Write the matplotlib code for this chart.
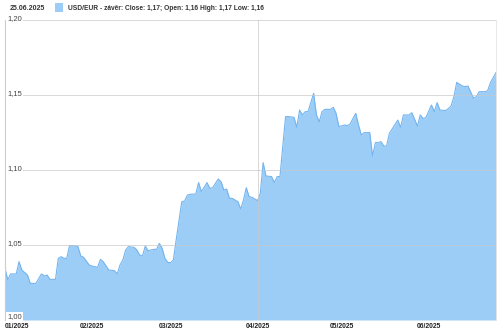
import pandas as pd
import numpy as np
import matplotlib
matplotlib.use("Agg")
import matplotlib.pyplot as plt
import matplotlib.transforms as mtransforms
from matplotlib.patches import Rectangle

## DATA
dates = ["2025-01-01", "2025-01-02", "2025-01-03", "2025-01-05", "2025-01-06", "2025-01-07",
         "2025-01-09", "2025-01-10", "2025-01-12", "2025-01-14", "2025-01-15", "2025-01-16",
         "2025-01-17", "2025-01-19", "2025-01-20", "2025-01-21", "2025-01-22", "2025-01-23",
         "2025-01-24", "2025-01-26", "2025-01-27", "2025-01-28", "2025-01-29", "2025-01-31",
         "2025-02-01", "2025-02-03", "2025-02-04", "2025-02-05", "2025-02-07", "2025-02-09",
         "2025-02-10", "2025-02-11", "2025-02-12", "2025-02-13", "2025-02-14", "2025-02-16",
         "2025-02-17", "2025-02-18", "2025-02-19", "2025-02-20", "2025-02-21", "2025-02-22",
         "2025-02-23", "2025-02-24", "2025-02-25", "2025-02-26", "2025-02-27", "2025-02-28",
         "2025-03-01", "2025-03-02", "2025-03-03", "2025-03-05", "2025-03-06", "2025-03-07",
         "2025-03-08", "2025-03-10", "2025-03-11", "2025-03-12", "2025-03-14", "2025-03-15",
         "2025-03-16", "2025-03-18", "2025-03-19", "2025-03-20", "2025-03-21", "2025-03-22",
         "2025-03-23", "2025-03-25", "2025-03-26", "2025-03-27", "2025-03-28", "2025-03-29",
         "2025-03-30", "2025-04-01", "2025-04-02", "2025-04-03", "2025-04-04", "2025-04-06",
         "2025-04-07", "2025-04-08", "2025-04-09", "2025-04-11", "2025-04-12", "2025-04-14",
         "2025-04-15", "2025-04-16", "2025-04-17", "2025-04-18", "2025-04-19", "2025-04-21",
         "2025-04-22", "2025-04-23", "2025-04-24", "2025-04-25", "2025-04-27", "2025-04-28",
         "2025-04-29", "2025-04-30", "2025-05-02", "2025-05-03", "2025-05-04", "2025-05-06",
         "2025-05-07", "2025-05-08", "2025-05-09", "2025-05-11", "2025-05-12", "2025-05-13",
         "2025-05-14", "2025-05-15", "2025-05-16", "2025-05-17", "2025-05-18", "2025-05-21",
         "2025-05-22", "2025-05-23", "2025-05-25", "2025-05-26", "2025-05-28", "2025-05-29",
         "2025-05-30", "2025-05-31", "2025-06-02", "2025-06-03", "2025-06-04", "2025-06-05",
         "2025-06-07", "2025-06-08", "2025-06-09", "2025-06-10", "2025-06-11", "2025-06-13",
         "2025-06-14", "2025-06-15", "2025-06-17", "2025-06-18", "2025-06-19", "2025-06-21",
         "2025-06-22", "2025-06-23", "2025-06-25"]
close = [1.0344, 1.0267, 1.0307, 1.0307, 1.0389, 1.0333,
         1.0300, 1.0244, 1.0244, 1.0307, 1.0293, 1.0300,
         1.0271, 1.0271, 1.0411, 1.0422, 1.0411, 1.0411,
         1.0496, 1.0496, 1.0489, 1.0427, 1.0418, 1.0367,
         1.0360, 1.0351, 1.0404, 1.0389, 1.0333, 1.0329,
         1.0307, 1.0367, 1.0400, 1.0467, 1.0489, 1.0484,
         1.0467, 1.0433, 1.0427, 1.0493, 1.0462, 1.0467,
         1.0471, 1.0471, 1.0511, 1.0478, 1.0411, 1.0384,
         1.0382, 1.0400, 1.0533, 1.0789, 1.0793, 1.0833,
         1.0838, 1.0840, 1.0916, 1.0856, 1.0916, 1.0878,
         1.0882, 1.0940, 1.0922, 1.0867, 1.0873, 1.0811,
         1.0811, 1.0789, 1.0740, 1.0800, 1.0882, 1.0822,
         1.0818, 1.0796, 1.0844, 1.1049, 1.0960, 1.0956,
         1.0916, 1.0956, 1.0956, 1.1356, 1.1356, 1.1351,
         1.1284, 1.1400, 1.1367, 1.1389, 1.1389, 1.1511,
         1.1367, 1.1322, 1.1389, 1.1404, 1.1404, 1.1418,
         1.1378, 1.1289, 1.1300, 1.1296, 1.1307, 1.1378,
         1.1300, 1.1233, 1.1249, 1.1249, 1.1093, 1.1182,
         1.1182, 1.1189, 1.1160, 1.1160, 1.1244, 1.1333,
         1.1284, 1.1367, 1.1367, 1.1382, 1.1293, 1.1367,
         1.1344, 1.1349, 1.1433, 1.1389, 1.1449, 1.1400,
         1.1396, 1.1409, 1.1427, 1.1489, 1.1584, 1.1560,
         1.1556, 1.1560, 1.1478, 1.1489, 1.1522, 1.1522,
         1.1527, 1.1582, 1.1649]

y_ticks = [1.00, 1.05, 1.10, 1.15, 1.20]
month_ticks = ["2025-01-01", "2025-02-01", "2025-03-01", "2025-04-01", "2025-05-01", "2025-06-01"]
month_labels = ["01/2025", "02/2025", "03/2025", "04/2025", "05/2025", "06/2025"]
header_date = "25.06.2025"
legend_text = "USD/EUR - závěr: Close: 1,17; Open: 1,16 High: 1,17 Low: 1,16"

plt.rcParams["font.family"] = ["Liberation Sans", "DejaVu Sans"]

x = pd.to_datetime(dates)

## DOING THE GRAPH
fig = plt.figure(figsize=(5, 3.35), dpi=100)
ax = fig.add_axes([0.01, 0.0448, 0.982, 0.8955])

ax.fill_between(x, 1.0, close, color="#9bcdf7", lw=0, zorder=1)
ax.plot(x, close, color="#74b4ee", lw=0.8, zorder=2)

ax.set_xlim(pd.Timestamp("2025-01-01"), pd.Timestamp("2025-06-25"))
ax.set_ylim(1.0, 1.2)

# horizontal grid lines + labels sitting on them
lift = mtransforms.offset_copy(ax.get_yaxis_transform(), fig=fig, x=0, y=1, units="dots")
for v in y_ticks:
    ax.axhline(v, color="#c8c8c8", lw=0.7, alpha=0.7, zorder=3)
    ax.text(0.005, v, f"{v:.2f}".replace(".", ","),
            transform=ax.get_yaxis_transform() if v == 1.0 else lift,
            ha="left", va="bottom" if v == 1.0 else "center", fontsize=5.5,
            color="#444444", zorder=4,
            bbox=dict(boxstyle="square,pad=0.15", fc="white", ec="none"))
ax.axvline(pd.Timestamp("2025-04-01"), color="#c8c8c8", lw=0.7, alpha=0.7, zorder=3)

ax.set_yticks([])
ax.set_xticks(pd.to_datetime(month_ticks))
ax.set_xticklabels(month_labels, fontsize=4.9, fontweight="bold", color="#222222")
ax.get_xticklabels()[0].set_ha("left")
ax.tick_params(axis="x", length=0, pad=2)

for s in ["top", "bottom"]:
    ax.spines[s].set_visible(False)
ax.spines["left"].set_color("#cccccc")
ax.spines["left"].set_linewidth(0.8)
ax.spines["right"].set_color("#e4e4e4")
ax.spines["right"].set_linewidth(0.6)

# header: date + legend
fig.text(0.02, 0.976, header_date, fontsize=5, fontweight="bold", color="#333333", va="center")
fig.patches.append(Rectangle((0.11, 0.964), 0.016, 0.026, transform=fig.transFigure,
                             facecolor="#9bcdf7", edgecolor="none"))
fig.text(0.136, 0.976, legend_text, fontsize=4.8, fontweight="bold", color="#333333", va="center")

plt.savefig("out.png", dpi=100)
